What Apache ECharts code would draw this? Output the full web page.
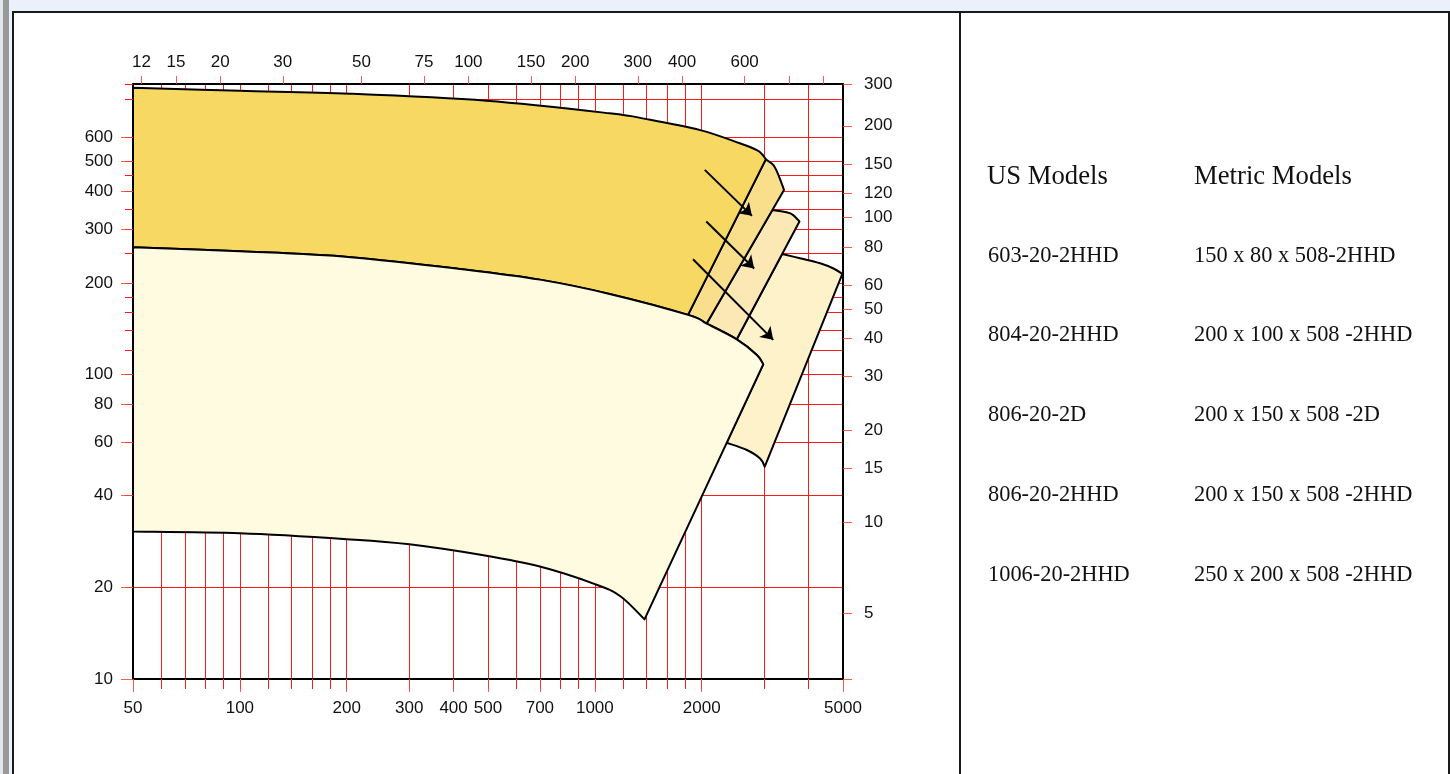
<!DOCTYPE html>
<html>
<head>
<meta charset="utf-8">
<title>Pump coverage chart</title>
<script src="https://cdn.jsdelivr.net/npm/echarts@6/dist/echarts.min.js"></script>
<style>
  html, body { margin: 0; padding: 0; width: 1450px; height: 774px; overflow: hidden; background: #ffffff; }
  #band-top { position: absolute; left: 0; top: 0; width: 1450px; height: 11px; background: #EAF1FA; }
  #band-left { position: absolute; left: 0; top: 0; width: 12px; height: 774px;
    background: linear-gradient(to right, #E2E7ED 0, #E2E7ED 3px, #9A9A9A 3px, #9A9A9A 9px, #EAF1FA 9px); }
  #frame { position: absolute; left: 12px; top: 11px; width: 1434px; height: 800px; border: 2px solid #1a1a1a; }
  #divider { position: absolute; left: 959px; top: 11px; width: 2px; height: 763px; background: #1a1a1a; }
  #chart { position: absolute; left: 0; top: 0; width: 1450px; height: 774px; }
</style>
</head>
<body>
<div id="band-top"></div>
<div id="band-left"></div>
<div id="frame"></div>
<div id="divider"></div>
<div id="chart"></div>
<script>
// ---- units ----
const GPM_PER_M3H = 4.4029;
const FT_PER_M = 3.2808;

// ---- axis ranges (US gpm / ft) ----
const flowMin = 50, flowMax = 5000;
const headMin = 10, headMax = 900;

// ---- grid lines and tick labels ----
const gpmGrid = [60, 70, 80, 90, 100, 120, 140, 160, 180, 200, 300, 400, 500, 600, 700, 800, 900,
                 1000, 1200, 1400, 1600, 1800, 2000, 3000, 4000];
const gpmLabels = [50, 100, 200, 300, 400, 500, 700, 1000, 2000, 5000];
const m3hTicks = [12, 15, 20, 30, 50, 75, 100, 150, 200, 300, 400, 600, 800, 1000];
const m3hLabels = [12, 15, 20, 30, 50, 75, 100, 150, 200, 300, 400, 600];
const ftGrid = [20, 40, 60, 80, 100, 120, 140, 160, 180, 200, 250, 300, 350, 400, 450, 500, 600, 800];
const ftLabels = [10, 20, 40, 60, 80, 100, 200, 300, 400, 500, 600];
const mLabels = [5, 10, 15, 20, 30, 40, 50, 60, 80, 100, 120, 150, 200];
const mTopLabel = '300';

// ---- coverage curves [gpm, ft] ----
const upperCurve = [[50, 875], [100, 855], [205, 836], [495, 793], [1100, 721], [1400, 690],
                    [1980, 635], [2560, 575], [2860, 546], [2970, 526], [3030, 509]];
const middleCurve = [[50, 262], [100, 254], [205, 243], [435, 221], [700, 205], [1100, 184], [1830, 157],
                     [2065, 147], [2510, 130.5], [2860, 116], [2980, 108]];
const lowerCurve = [[50, 30.5], [100, 30.1], [200, 28.8], [300, 27.7], [495, 25.4], [700, 23.4],
                    [1000, 20.5], [1180, 18.7], [1380, 15.7]];
const stripOneCap = [[3030, 509], [3180, 488], [3290, 452], [3410, 404]];
const stripTwoCap = [[3160, 347], [3470, 341], [3620, 334], [3770, 318]];
const stripThreeCap = [[3370, 249], [3780, 241], [4310, 232], [4700, 223], [4980, 214]];
const stripThreeFoot = [[3010, 49.8], [2920, 53], [2680, 56.5], [2350, 59.7]];
const arrows = [
  [[2040, 470], [2770, 332]],
  [[2060, 318], [2810, 223]],
  [[1890, 239], [3180, 130]]
];

// ---- model table ----
const tableHeaders = ['US Models', 'Metric Models'];
const usModels = ['603-20-2HHD', '804-20-2HHD', '806-20-2D', '806-20-2HHD', '1006-20-2HHD'];
const metricModels = ['150 x 80 x 508-2HHD', '200 x 100 x 508 -2HHD', '200 x 150 x 508 -2D',
                      '200 x 150 x 508 -2HHD', '250 x 200 x 508 -2HHD'];

// ---- regions: outlines made of curve pieces joined by straight edges ----
const at = (curve, gpm) => curve.findIndex(p => p[0] === gpm);
const lastOf = c => c.length - 1;
const regions = [
  { fill: '#FDF2CA', pieces: [
      { curve: stripThreeCap, from: 0, to: lastOf(stripThreeCap) },
      { curve: stripThreeFoot, from: 0, to: lastOf(stripThreeFoot) },
      { curve: middleCurve, from: lastOf(middleCurve), to: at(middleCurve, 2510) } ] },
  { fill: '#FBE8B5', pieces: [
      { curve: stripTwoCap, from: 0, to: lastOf(stripTwoCap) },
      { curve: middleCurve, from: at(middleCurve, 2510), to: at(middleCurve, 2065) } ] },
  { fill: '#F9DF8C', pieces: [
      { curve: stripOneCap, from: 0, to: lastOf(stripOneCap) },
      { curve: middleCurve, from: at(middleCurve, 2065), to: at(middleCurve, 1830) } ] },
  { fill: '#F7D862', pieces: [
      { curve: upperCurve, from: 0, to: lastOf(upperCurve) },
      { curve: middleCurve, from: at(middleCurve, 1830), to: 0 } ] },
  { fill: '#FEFBE1', pieces: [
      { curve: middleCurve, from: 0, to: lastOf(middleCurve) },
      { curve: lowerCurve, from: lastOf(lowerCurve), to: 0 } ] }
];

// Smooth (Catmull-Rom) path along a run of pixel points, walking from index i0 to i1.
// Control points always come from the whole curve so shared edges coincide.
function curveSegments(px, i0, i1) {
  let d = '';
  const n = px.length;
  const step = i1 > i0 ? 1 : -1;
  for (let i = i0; i !== i1; i += step) {
    const a = step > 0 ? i : i - 1;
    const b = a + 1;
    const p0 = px[Math.max(a - 1, 0)], p1 = px[a], p2 = px[b], p3 = px[Math.min(b + 1, n - 1)];
    const c1 = [p1[0] + (p2[0] - p0[0]) / 6, p1[1] + (p2[1] - p0[1]) / 6];
    const c2 = [p2[0] - (p3[0] - p1[0]) / 6, p2[1] - (p3[1] - p1[1]) / 6];
    const end = step > 0 ? p2 : p1;
    const ca = step > 0 ? c1 : c2, cb = step > 0 ? c2 : c1;
    d += 'C' + ca[0] + ',' + ca[1] + ' ' + cb[0] + ',' + cb[1] + ' ' + end[0] + ',' + end[1];
  }
  return d;
}

function regionPath(pieces, api) {
  let d = '';
  pieces.forEach(pc => {
    const px = pc.curve.map(q => api.coord(q));
    const s = px[pc.from];
    d += (d ? 'L' : 'M') + s[0] + ',' + s[1];
    d += curveSegments(px, pc.from, pc.to);
  });
  return d + 'Z';
}

function regionSeries(r, idx) {
  return {
    type: 'custom',
    coordinateSystem: 'cartesian2d',
    xAxisIndex: 0, yAxisIndex: 0,
    silent: true,
    clip: true,
    z: 3 + idx * 0.01,
    data: [r.pieces[0].curve[0]],
    renderItem: function (params, api) {
      return {
        type: 'path',
        shape: { pathData: regionPath(r.pieces, api) },
        style: { fill: r.fill, stroke: '#000', lineWidth: 2, lineJoin: 'round' }
      };
    }
  };
}

const RED = '#FF1A1A';
const TICK = 'rgba(240,70,50,0.85)';
const labelFont = { fontFamily: '"Liberation Sans", Arial, sans-serif', fontSize: 17, color: '#111' };
const fmt = v => String(Math.round(v));

const headerY = 177;
const rowY = [256, 335, 415, 495, 575];
const serif = '"Liberation Serif", "Times New Roman", serif';
const textStyle = (text, size) => ({ text: text, fontFamily: serif, fontSize: size, fill: '#111', verticalAlign: 'middle' });
const graphics = [
  { type: 'text', x: 987, y: headerY, style: textStyle(tableHeaders[0], 26.7) },
  { type: 'text', x: 1194, y: headerY, style: textStyle(tableHeaders[1], 26.7) }
];
usModels.forEach((t, i) => {
  graphics.push({ type: 'text', x: 988, y: rowY[i], style: textStyle(t, 22.4) });
  graphics.push({ type: 'text', x: 1194, y: rowY[i], style: textStyle(metricModels[i], 22.4) });
});

const chart = echarts.init(document.getElementById('chart'), null, { renderer: 'canvas' });
const rightMin = headMin / FT_PER_M, rightMax = headMax / FT_PER_M;
// values placed on the very edge are nudged inside so the axis keeps them
const edgeTop = v => v * 0.99999;
const edgeBottom = v => v * 1.00001;

chart.setOption({
  animation: false,
  grid: { left: 133, right: 607, top: 84, bottom: 95, containLabel: false, outerBoundsMode: 'none' },
  xAxis: [
    { // flow, gpm
      type: 'log', logBase: 10, position: 'bottom', min: flowMin, max: flowMax,
      axisLine: { show: true, onZero: false, lineStyle: { color: '#000', width: 2 } },
      axisTick: { show: true, inside: false, length: 10, customValues: gpmGrid, lineStyle: { color: RED, width: 1 } },
      axisLabel: Object.assign({ show: true, margin: 21, customValues: gpmLabels, formatter: fmt }, labelFont),
      splitLine: { show: true, lineStyle: { color: RED, width: 1 } }
    },
    { // flow, m3/h
      type: 'log', logBase: 10, position: 'top', min: flowMin / GPM_PER_M3H, max: flowMax / GPM_PER_M3H,
      axisLine: { show: true, onZero: false, lineStyle: { color: '#000', width: 2 } },
      axisTick: { show: true, inside: false, length: 8, customValues: m3hTicks, lineStyle: { color: TICK, width: 1 } },
      axisLabel: Object.assign({ show: true, margin: 13, customValues: m3hLabels, formatter: fmt }, labelFont),
      splitLine: { show: false }
    },
    { // longer ticks under the labelled gpm values
      type: 'log', logBase: 10, position: 'bottom', min: flowMin, max: flowMax,
      axisLine: { show: false },
      axisTick: { show: true, inside: false, length: 13,
        customValues: gpmLabels.map((v, i) => i === gpmLabels.length - 1 ? edgeTop(v) : (i === 0 ? edgeBottom(v) : v)),
        lineStyle: { color: TICK, width: 1 } },
      axisLabel: { show: false },
      splitLine: { show: false }
    }
  ],
  yAxis: [
    { // head, ft
      type: 'log', logBase: 10, position: 'left', min: headMin, max: headMax,
      axisLine: { show: true, onZero: false, lineStyle: { color: '#000', width: 2 } },
      axisTick: { show: true, inside: false, length: 8, customValues: ftGrid.concat([edgeTop(headMax)]), lineStyle: { color: RED, width: 1 } },
      axisLabel: Object.assign({ show: true, margin: 20, customValues: ftLabels, formatter: fmt }, labelFont),
      splitLine: { show: true, lineStyle: { color: RED, width: 1 } }
    },
    { // head, m
      type: 'log', logBase: 10, position: 'right', min: rightMin, max: rightMax,
      axisLine: { show: true, onZero: false, lineStyle: { color: '#000', width: 2 } },
      axisTick: { show: true, inside: false, length: 9,
        customValues: [edgeBottom(rightMin)].concat(mLabels, [edgeTop(rightMax)]),
        lineStyle: { color: TICK, width: 1 } },
      axisLabel: Object.assign({
        show: true, margin: 21, customValues: mLabels.concat([edgeTop(rightMax)]),
        // the top edge carries the nominal 300 m mark
        formatter: v => (v > rightMax * 0.999 ? mTopLabel : fmt(v))
      }, labelFont),
      splitLine: { show: false }
    },
    { // longer ticks beside the labelled ft values
      type: 'log', logBase: 10, position: 'left', min: headMin, max: headMax,
      axisLine: { show: false },
      axisTick: { show: true, inside: false, length: 12,
        customValues: ftLabels.map((v, i) => i === 0 ? edgeBottom(v) : v),
        lineStyle: { color: TICK, width: 1 } },
      axisLabel: { show: false },
      splitLine: { show: false }
    }
  ],
  series: regions.map(regionSeries).concat([{
    type: 'lines',
    coordinateSystem: 'cartesian2d',
    xAxisIndex: 0, yAxisIndex: 0,
    silent: true,
    z: 6,
    symbol: ['none', 'arrow'],
    symbolSize: 12,
    lineStyle: { color: '#000', width: 2, opacity: 1 },
    data: arrows.map(a => ({ coords: a }))
  }]),
  graphic: graphics
});
</script>
</body>
</html>
